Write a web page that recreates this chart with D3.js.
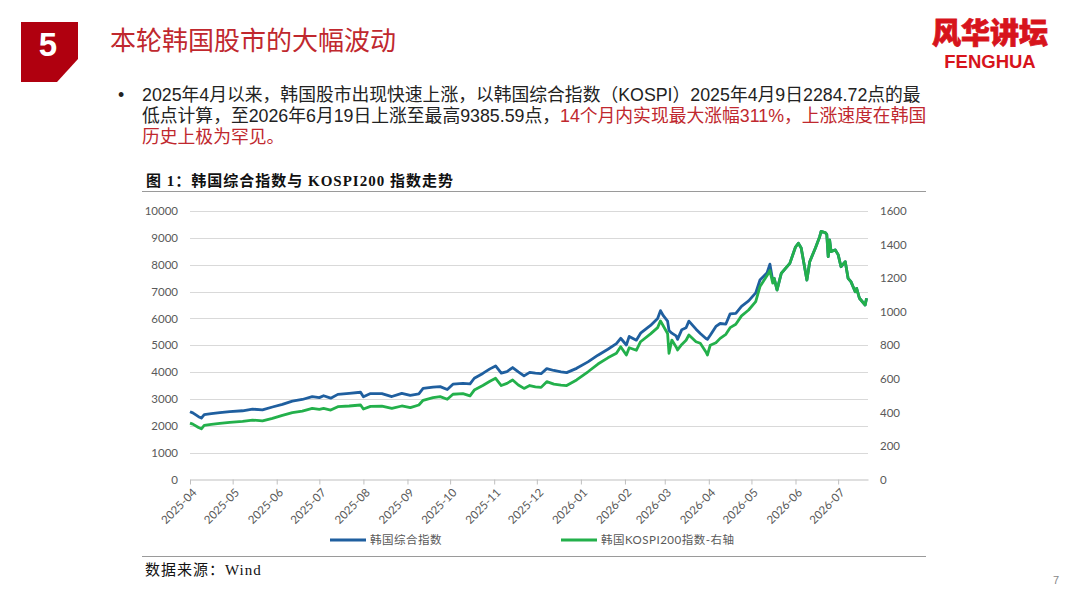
<!DOCTYPE html>
<html>
<head>
<meta charset="utf-8">
<script src="https://cdn.jsdelivr.net/npm/d3@7"></script>
<style>
    html, body { margin: 0; padding: 0; background: #fff; }
    svg { display: block; }
</style>
</head>
<body>
<div id="chart"></div>
<script>
// --- data ---
var dates = [
    '2025-04-01', '2025-04-03', '2025-04-07', '2025-04-09', '2025-04-11', '2025-04-16', '2025-04-22', '2025-04-29',
    '2025-05-08', '2025-05-15', '2025-05-22', '2025-05-29',
    '2025-06-05', '2025-06-12', '2025-06-19', '2025-06-26',
    '2025-07-01', '2025-07-04', '2025-07-09', '2025-07-14', '2025-07-22', '2025-07-30',
    '2025-08-01', '2025-08-06', '2025-08-14', '2025-08-21', '2025-08-28',
    '2025-09-03', '2025-09-09', '2025-09-12', '2025-09-19', '2025-09-24', '2025-09-29',
    '2025-10-03', '2025-10-10', '2025-10-15', '2025-10-18', '2025-10-24', '2025-10-29',
    '2025-11-02', '2025-11-06', '2025-11-10', '2025-11-14', '2025-11-18', '2025-11-22', '2025-11-26', '2025-11-30',
    '2025-12-04', '2025-12-08', '2025-12-13', '2025-12-18', '2025-12-22', '2025-12-29',
    '2026-01-06', '2026-01-13', '2026-01-20', '2026-01-26', '2026-01-29',
    '2026-02-02', '2026-02-04', '2026-02-09', '2026-02-12', '2026-02-19', '2026-02-24', '2026-02-26', '2026-02-28',
    '2026-03-03', '2026-03-04', '2026-03-06', '2026-03-09', '2026-03-10', '2026-03-13', '2026-03-16', '2026-03-18',
    '2026-03-23', '2026-03-26', '2026-03-30', '2026-03-31',
    '2026-04-02', '2026-04-06', '2026-04-09', '2026-04-13', '2026-04-16', '2026-04-20', '2026-04-24', '2026-04-29',
    '2026-05-04', '2026-05-07', '2026-05-12', '2026-05-14', '2026-05-16', '2026-05-17', '2026-05-19', '2026-05-22', '2026-05-28',
    '2026-06-01', '2026-06-03', '2026-06-05', '2026-06-09', '2026-06-11', '2026-06-15', '2026-06-18', '2026-06-19',
    '2026-06-22', '2026-06-23', '2026-06-24', '2026-06-25', '2026-06-26', '2026-06-29',
    '2026-07-01', '2026-07-03', '2026-07-06', '2026-07-08', '2026-07-10', '2026-07-13', '2026-07-14', '2026-07-16',
    '2026-07-20', '2026-07-21'
];

// 韩国综合指数 (left axis)
var kospi = [
    2525, 2480, 2340, 2290, 2420, 2450, 2490, 2530,
    2560, 2620, 2590, 2700,
    2800, 2920, 2980, 3090,
    3050, 3120, 3030, 3170, 3210, 3250,
    3080, 3200, 3200, 3090, 3210,
    3130, 3190, 3390, 3440, 3460, 3350,
    3550, 3580, 3560, 3770, 3950, 4120,
    4230, 3960, 4020, 4170, 4010, 3860, 3990, 3960,
    3940, 4130, 4060, 4010, 3980, 4140,
    4380, 4630, 4850, 5060, 5260,
    5010, 5330, 5190, 5450, 5740, 6000, 6290, 6100,
    5900, 5550, 5450, 5350, 5220, 5580, 5650, 5900,
    5600, 5440, 5250, 5220,
    5370, 5700, 5810, 5790, 6170, 6190, 6450, 6650,
    6950, 7430, 7700, 8020, 7400, 7490, 7060, 7680, 8050,
    8660, 8800, 8625, 7430, 8110, 8625, 9045, 9240,
    9190, 9125, 8300, 8920, 8490, 8550,
    8375, 7925, 8110, 7490, 7370, 6990, 7120, 6750,
    6500, 6750
];

// 韩国KOSPI200指数 (right axis)
var kospi200 = [
    336, 330, 310, 302, 322, 328, 334, 341,
    346, 354, 349, 364,
    382, 398, 408, 424,
    418, 424, 414, 434, 438, 444,
    420, 436, 437, 424, 438,
    428, 444, 472, 488, 494, 478,
    508, 512, 498, 533, 560, 585,
    603, 560, 573, 593, 563, 543, 560, 552,
    549, 583, 568, 563, 560, 593,
    642, 688, 725, 752, 791,
    742, 785, 770, 821, 868, 905, 945, 915,
    870, 752, 831, 790, 772, 805, 830, 861,
    821, 812, 760, 742,
    800, 815, 841, 865, 905, 925, 975, 1010,
    1060, 1150, 1215, 1245, 1170, 1199, 1129, 1229, 1288,
    1385, 1408, 1380, 1189, 1298, 1380, 1447, 1478,
    1471, 1460, 1328, 1427, 1358, 1368,
    1340, 1268, 1298, 1199, 1179, 1119, 1139, 1080,
    1040, 1080
];

var leftTicks = [0, 1000, 2000, 3000, 4000, 5000, 6000, 7000, 8000, 9000, 10000];
var rightTicks = [0, 200, 400, 600, 800, 1000, 1200, 1400, 1600];
var seriesNames = ['韩国综合指数', '韩国KOSPI200指数-右轴'];

var pageTitle = '本轮韩国股市的大幅波动';
var chartTitle = '图 1：韩国综合指数与 KOSPI200 指数走势';
var sourceText = '数据来源：Wind';

// --- drawing ---
var W = 1080, H = 608;
var sansFont = "'Liberation Sans', Arial, 'Noto Sans CJK SC', sans-serif";
var axisFont = "Lato, 'Noto Sans CJK SC', sans-serif";
var serifFont = "'Liberation Serif', 'Noto Sans CJK SC', serif";
var red = '#c0282e';
var blue = '#1f5f9f';
var green = '#23b04b';

var plot = {left: 190, right: 868, top: 211, bottom: 479.5};

var svg = d3.select('#chart').append('svg')
    .attr('width', W)
    .attr('height', H)
    .attr('viewBox', '0 0 ' + W + ' ' + H);

svg.append('rect').attr('width', W).attr('height', H).attr('fill', '#fff');

// header badge
svg.append('polygon')
    .attr('points', '21,22 78,22 78,59 57,82 21,82')
    .attr('fill', '#b0000f');
svg.append('text')
    .attr('x', 48).attr('y', 56)
    .attr('text-anchor', 'middle')
    .style('font-family', sansFont)
    .style('font-weight', 'bold')
    .style('font-size', '33px')
    .attr('fill', '#fff')
    .text('5');

svg.append('text')
    .attr('x', 110).attr('y', 50)
    .style('font-family', sansFont)
    .style('font-size', '26px')
    .attr('fill', red)
    .text(pageTitle);

// logo
svg.append('text')
    .attr('x', 990).attr('y', 44)
    .attr('text-anchor', 'middle')
    .style('font-family', "'Noto Sans CJK SC', sans-serif")
    .style('font-weight', 900)
    .style('font-size', '29px')
    .attr('fill', '#d7141c')
    .attr('stroke', '#d7141c').attr('stroke-width', 0.8)
    .text('风华讲坛');
svg.append('text')
    .attr('x', 990).attr('y', 68)
    .attr('text-anchor', 'middle')
    .style('font-family', sansFont)
    .style('font-weight', 'bold')
    .style('font-size', '18.5px')
    .attr('fill', '#d7141c')
    .text('FENGHUA');

// bullet paragraph
var para = svg.append('g')
    .style('font-family', sansFont)
    .style('font-size', '17.8px');
para.append('text').attr('x', 118).attr('y', 101).attr('fill', '#222').text('•');
var lines = [
    [['2025年4月以来，韩国股市出现快速上涨，以韩国综合指数（KOSPI）2025年4月9日2284.72点的最', '#222']],
    [['低点计算，至2026年6月19日上涨至最高9385.59点，', '#222'], ['14个月内实现最大涨幅311%，上涨速度在韩国', red]],
    [['历史上极为罕见。', red]]
];
lines.forEach(function(parts, i) {
    var t = para.append('text').attr('x', 142).attr('y', 101 + i * 21);
    parts.forEach(function(p) {
        t.append('tspan').attr('fill', p[1]).text(p[0]);
    });
});

// chart frame
svg.append('text')
    .attr('x', 146).attr('y', 186)
    .style('font-family', serifFont)
    .style('font-weight', 'bold')
    .style('font-size', '15px')
    .style('letter-spacing', '1px')
    .attr('fill', '#111')
    .text(chartTitle);
svg.append('line')
    .attr('x1', 142).attr('x2', 926).attr('y1', 191.5).attr('y2', 191.5)
    .attr('stroke', '#9a9a9a').attr('stroke-width', 1);
svg.append('line')
    .attr('x1', 142).attr('x2', 926).attr('y1', 556.5).attr('y2', 556.5)
    .attr('stroke', '#9a9a9a').attr('stroke-width', 1);
svg.append('text')
    .attr('x', 145).attr('y', 575)
    .style('font-family', serifFont)
    .style('font-size', '15px')
    .style('letter-spacing', '1px')
    .attr('fill', '#111')
    .text(sourceText);

// scales
var parse = d3.timeParse('%Y-%m-%d');
var points = dates.map(function(d, i) {
    return {date: parse(d), left: kospi[i], right: kospi200[i]};
});

var x = d3.scaleTime()
    .domain([parse('2025-04-01'), parse('2026-07-22')])
    .range([plot.left, plot.right]);
var yLeft = d3.scaleLinear().domain([0, 10000]).range([plot.bottom, plot.top]);
var yRight = d3.scaleLinear().domain([0, 1600]).range([plot.bottom, plot.top]);

// gridlines
svg.append('g').selectAll('line')
    .data(leftTicks.filter(function(d) { return d > 0; }))
    .enter().append('line')
    .attr('x1', plot.left).attr('x2', plot.right)
    .attr('y1', function(d) { return Math.round(yLeft(d)) + 0.5; })
    .attr('y2', function(d) { return Math.round(yLeft(d)) + 0.5; })
    .attr('stroke', '#d9d9d9').attr('stroke-width', 1);

// left axis
var leftAxis = d3.axisLeft(yLeft).tickValues(leftTicks)
    .tickFormat(d3.format('d')).tickSize(0).tickPadding(12);
var gl = svg.append('g')
    .attr('transform', 'translate(' + plot.left + ',0)')
    .call(leftAxis);
gl.select('.domain').remove();
gl.selectAll('text')
    .style('font-family', axisFont).style('font-size', '11.5px').attr('fill', '#595959');

// right axis
var rightAxis = d3.axisRight(yRight).tickValues(rightTicks)
    .tickFormat(d3.format('d')).tickSize(0).tickPadding(12);
var gr = svg.append('g')
    .attr('transform', 'translate(' + plot.right + ',0)')
    .call(rightAxis);
gr.select('.domain').remove();
gr.selectAll('text')
    .style('font-family', axisFont).style('font-size', '11.5px').attr('fill', '#595959');

// bottom axis
var bottomAxis = d3.axisBottom(x)
    .ticks(d3.timeMonth.every(1))
    .tickFormat(d3.timeFormat('%Y-%m'))
    .tickSizeInner(5).tickSizeOuter(0);
var gb = svg.append('g')
    .attr('transform', 'translate(0,' + plot.bottom + ')')
    .call(bottomAxis);
gb.select('.domain').attr('stroke', '#bfbfbf');
gb.selectAll('.tick line').attr('stroke', '#bfbfbf');
gb.selectAll('.tick text')
    .style('font-family', axisFont).style('font-size', '11.5px').attr('fill', '#595959')
    .attr('text-anchor', 'end')
    .attr('dy', '0.35em')
    .attr('transform', 'translate(4,11) rotate(-45)')
    .attr('y', 0).attr('x', 0);

// series
var lineLeft = d3.line()
    .x(function(d) { return x(d.date); })
    .y(function(d) { return yLeft(d.left); });
var lineRight = d3.line()
    .x(function(d) { return x(d.date); })
    .y(function(d) { return yRight(d.right); });

svg.append('path')
    .datum(points)
    .attr('d', lineLeft)
    .attr('fill', 'none').attr('stroke', blue)
    .attr('stroke-width', 2.8).attr('stroke-linejoin', 'round');
svg.append('path')
    .datum(points)
    .attr('d', lineRight)
    .attr('fill', 'none').attr('stroke', green)
    .attr('stroke-width', 2.8).attr('stroke-linejoin', 'round');

// legend
var legend = [
    {name: seriesNames[0], color: blue, x: 330},
    {name: seriesNames[1], color: green, x: 561}
];
var lg = svg.append('g').selectAll('g')
    .data(legend).enter().append('g')
    .attr('transform', function(d) { return 'translate(' + d.x + ',540)'; });
lg.append('line')
    .attr('x1', 0).attr('x2', 36).attr('y1', 0).attr('y2', 0)
    .attr('stroke', function(d) { return d.color; })
    .attr('stroke-width', 3);
lg.append('text')
    .attr('x', 40).attr('dy', '0.35em')
    .style('font-family', axisFont).style('font-size', '11.5px')
    .style('letter-spacing', '0.5px').attr('fill', '#595959')
    .text(function(d) { return d.name; });

// page number
svg.append('text')
    .attr('x', 1056).attr('y', 584)
    .attr('text-anchor', 'middle')
    .style('font-family', sansFont).style('font-size', '11px').attr('fill', '#888')
    .text('7');
</script>
</body>
</html>
